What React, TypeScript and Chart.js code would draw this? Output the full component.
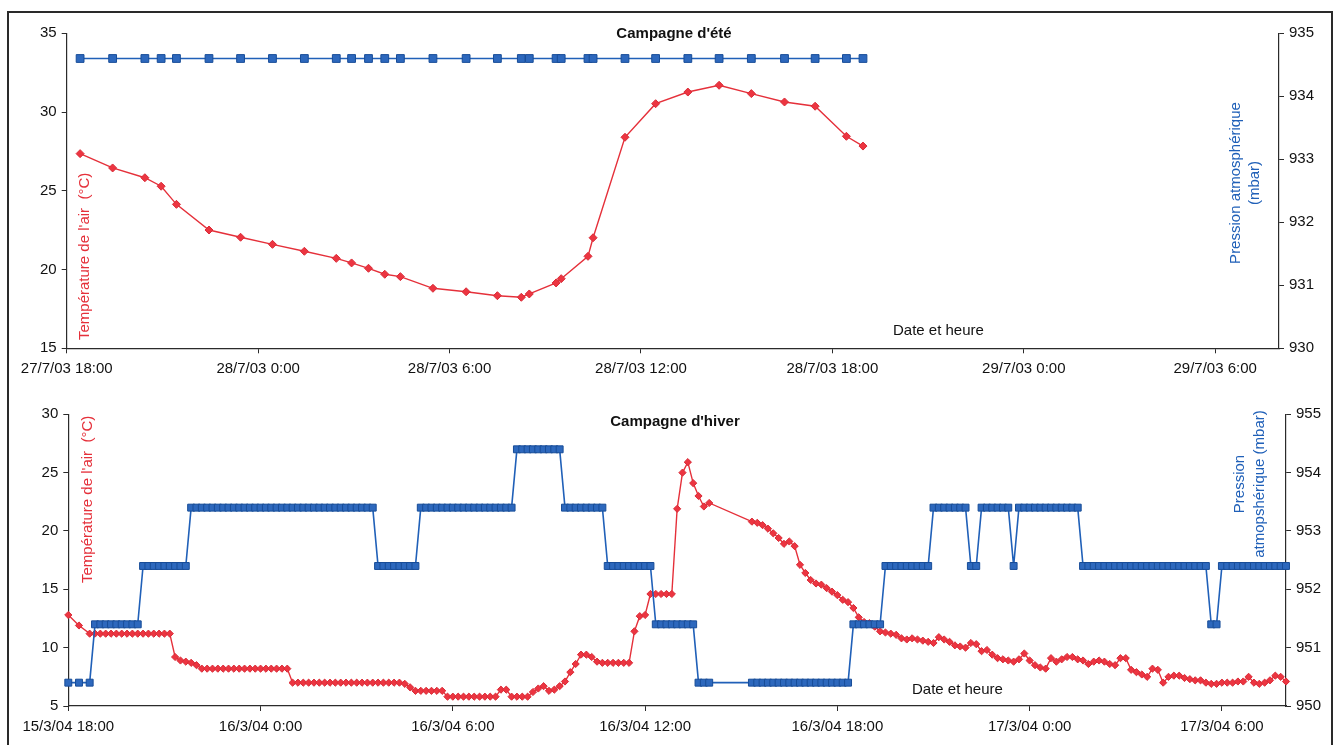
import React, { useEffect, useRef } from "react";
import { Chart, registerables } from "chart.js";

Chart.register(...registerables);

const FONT = "'Liberation Sans', Arial, Helvetica, sans-serif";

// ---------------- Campagne d'été (hours after 27/7/03 18:00) ----------------
const summerHours = [
  0.42, 1.44, 2.45, 2.96, 3.44, 4.46, 5.45, 6.45, 7.45, 8.45,
  8.93, 9.46, 9.97, 10.46, 11.48, 12.52, 13.5, 14.25, 14.5, 15.34,
  15.5, 16.34, 16.5, 17.5, 18.46, 19.47, 20.45, 21.46, 22.5, 23.46,
  24.44, 24.96,
];
const summerTemp = [
  27.36, 26.45, 25.83, 25.29, 24.14, 22.51, 22.05, 21.6, 21.16, 20.71,
  20.42, 20.08, 19.7, 19.55, 18.81, 18.59, 18.34, 18.24, 18.45, 19.15,
  19.42, 20.84, 22.02, 28.4, 30.53, 31.27, 31.7, 31.17, 30.64, 30.37,
  28.46, 27.84,
];
const summerPressure = [
  934.6, 934.6, 934.6, 934.6, 934.6, 934.6, 934.6, 934.6, 934.6, 934.6,
  934.6, 934.6, 934.6, 934.6, 934.6, 934.6, 934.6, 934.6, 934.6, 934.6,
  934.6, 934.6, 934.6, 934.6, 934.6, 934.6, 934.6, 934.6, 934.6, 934.6,
  934.6, 934.6,
];
const summerTickHours = [0, 6, 12, 18, 24, 30, 36];
const summerTickLabels = [
  "27/7/03 18:00", "28/7/03 0:00", "28/7/03 6:00", "28/7/03 12:00",
  "28/7/03 18:00", "29/7/03 0:00", "29/7/03 6:00",
];

// ---------------- Campagne d'hiver (minutes after 15/3/04 18:00) ----------------
const winterMinutes = [
  0, 20, 40,
  50, 60, 70, 80, 90, 100, 110, 120, 130, 140, 150, 160, 170, 180, 190, 200,
  210, 220, 230, 240, 250, 260, 270, 280, 290, 300, 310, 320, 330, 340, 350, 360, 370, 380, 390, 400,
  410, 420, 430, 440, 450, 460, 470, 480, 490, 500, 510, 520, 530, 540, 550, 560, 570, 580, 590, 600,
  610, 620, 630, 640, 650, 660, 670, 680, 690, 700, 710, 720, 730, 740, 750, 760, 770, 780, 790, 800,
  810, 820, 830, 840, 850, 860, 870, 880, 890, 900, 910, 920, 930, 940, 950, 960, 970, 980, 990, 1000,
  1010, 1020, 1030, 1040, 1050, 1060, 1070, 1080, 1090, 1100, 1110, 1120, 1130, 1140, 1150, 1160, 1170, 1180, 1190, 1200,
  1280, 1290, 1300, 1310, 1320, 1330, 1340, 1350, 1360, 1370, 1380, 1390, 1400, 1410, 1420, 1430, 1440, 1450, 1460, 1470,
  1480, 1490, 1500, 1510, 1520, 1530, 1540, 1550, 1560, 1570, 1580, 1590, 1600, 1610, 1620, 1630, 1640, 1650, 1660, 1670,
  1680, 1690, 1700, 1710, 1720, 1730, 1740, 1750, 1760, 1770, 1780, 1790, 1800, 1810, 1820, 1830, 1840, 1850, 1860, 1870,
  1880, 1890, 1900, 1910, 1920, 1930, 1940, 1950, 1960, 1970, 1980, 1990, 2000, 2010, 2020, 2030, 2040, 2050, 2060, 2070,
  2080, 2090, 2100, 2110, 2120, 2130, 2140, 2150, 2160, 2170, 2180, 2190, 2200, 2210, 2220, 2230, 2240, 2250, 2260, 2270,
  2280,
];
const winterTemp = [
  12.8, 11.9, 11.2,
  11.2, 11.2, 11.2, 11.2, 11.2, 11.2, 11.2, 11.2, 11.2, 11.2, 11.2, 11.2, 11.2, 11.2, 11.2, 9.2,
  8.9, 8.8, 8.7, 8.5, 8.2, 8.2, 8.2, 8.2, 8.2, 8.2, 8.2, 8.2, 8.2, 8.2, 8.2, 8.2, 8.2, 8.2, 8.2, 8.2,
  8.2, 7.0, 7.0, 7.0, 7.0, 7.0, 7.0, 7.0, 7.0, 7.0, 7.0, 7.0, 7.0, 7.0, 7.0, 7.0, 7.0, 7.0, 7.0, 7.0,
  7.0, 7.0, 6.9, 6.6, 6.3, 6.3, 6.3, 6.3, 6.3, 6.3, 5.8, 5.8, 5.8, 5.8, 5.8, 5.8, 5.8, 5.8, 5.8, 5.8,
  6.4, 6.4, 5.8, 5.8, 5.8, 5.8, 6.2, 6.5, 6.7, 6.3, 6.4, 6.7, 7.1, 7.9, 8.6, 9.4, 9.4, 9.2, 8.8, 8.7,
  8.7, 8.7, 8.7, 8.7, 8.7, 11.4, 12.7, 12.8, 14.6, 14.6, 14.6, 14.6, 14.6, 21.9, 25.0, 25.9, 24.1, 23.0, 22.1, 22.4,
  20.8, 20.7, 20.5, 20.2, 19.8, 19.4, 18.9, 19.1, 18.7, 17.1, 16.4, 15.8, 15.5, 15.4, 15.1, 14.8, 14.5, 14.1, 13.9, 13.4,
  12.6, 12.2, 12.1, 11.8, 11.4, 11.3, 11.2, 11.1, 10.8, 10.7, 10.8, 10.7, 10.6, 10.5, 10.4, 10.9, 10.7, 10.5, 10.2, 10.1,
  10.0, 10.4, 10.3, 9.7, 9.8, 9.4, 9.1, 9.0, 8.9, 8.8, 9.0, 9.5, 8.9, 8.5, 8.3, 8.2, 9.1, 8.8, 9.0, 9.2,
  9.2, 9.0, 8.9, 8.6, 8.8, 8.9, 8.8, 8.6, 8.5, 9.1, 9.1, 8.1, 7.9, 7.7, 7.5, 8.2, 8.1, 7.0, 7.5, 7.6,
  7.6, 7.4, 7.3, 7.2, 7.2, 7.0, 6.9, 6.9, 7.0, 7.0, 7.0, 7.1, 7.1, 7.5, 7.0, 6.9, 7.0, 7.2, 7.6, 7.5,
  7.1,
];
const winterPressure = [
  950.4, 950.4, 950.4,
  951.4, 951.4, 951.4, 951.4, 951.4, 951.4, 951.4, 951.4, 951.4, 952.4, 952.4, 952.4, 952.4, 952.4, 952.4, 952.4,
  952.4, 952.4, 953.4, 953.4, 953.4, 953.4, 953.4, 953.4, 953.4, 953.4, 953.4, 953.4, 953.4, 953.4, 953.4, 953.4, 953.4, 953.4, 953.4, 953.4,
  953.4, 953.4, 953.4, 953.4, 953.4, 953.4, 953.4, 953.4, 953.4, 953.4, 953.4, 953.4, 953.4, 953.4, 953.4, 953.4, 953.4, 952.4, 952.4, 952.4,
  952.4, 952.4, 952.4, 952.4, 952.4, 953.4, 953.4, 953.4, 953.4, 953.4, 953.4, 953.4, 953.4, 953.4, 953.4, 953.4, 953.4, 953.4, 953.4, 953.4,
  953.4, 953.4, 953.4, 954.4, 954.4, 954.4, 954.4, 954.4, 954.4, 954.4, 954.4, 954.4, 953.4, 953.4, 953.4, 953.4, 953.4, 953.4, 953.4, 953.4,
  952.4, 952.4, 952.4, 952.4, 952.4, 952.4, 952.4, 952.4, 952.4, 951.4, 951.4, 951.4, 951.4, 951.4, 951.4, 951.4, 951.4, 950.4, 950.4, 950.4,
  950.4, 950.4, 950.4, 950.4, 950.4, 950.4, 950.4, 950.4, 950.4, 950.4, 950.4, 950.4, 950.4, 950.4, 950.4, 950.4, 950.4, 950.4, 950.4, 951.4,
  951.4, 951.4, 951.4, 951.4, 951.4, 952.4, 952.4, 952.4, 952.4, 952.4, 952.4, 952.4, 952.4, 952.4, 953.4, 953.4, 953.4, 953.4, 953.4, 953.4,
  953.4, 952.4, 952.4, 953.4, 953.4, 953.4, 953.4, 953.4, 953.4, 952.4, 953.4, 953.4, 953.4, 953.4, 953.4, 953.4, 953.4, 953.4, 953.4, 953.4,
  953.4, 953.4, 952.4, 952.4, 952.4, 952.4, 952.4, 952.4, 952.4, 952.4, 952.4, 952.4, 952.4, 952.4, 952.4, 952.4, 952.4, 952.4, 952.4, 952.4,
  952.4, 952.4, 952.4, 952.4, 952.4, 952.4, 951.4, 951.4, 952.4, 952.4, 952.4, 952.4, 952.4, 952.4, 952.4, 952.4, 952.4, 952.4, 952.4, 952.4,
  952.4,
];
const winterTickHours = [0, 6, 12, 18, 24, 30, 36];
const winterTickLabels = [
  "15/3/04 18:00", "16/3/04 0:00", "16/3/04 6:00", "16/3/04 12:00",
  "16/3/04 18:00", "17/3/04 0:00", "17/3/04 6:00",
];

const RED = "#e5303a";
const BLUE = "#2060b8";
const AXIS = "#2b2b2b";

type TextItem = {
  text: string; x: number; y: number; size: number; color: string;
  bold?: boolean; rotate?: boolean; align: CanvasTextAlign;
};

function textPlugin(texts: TextItem[]) {
  return {
    id: "panelTexts",
    afterDraw(chart: any) {
      const ctx = chart.ctx as CanvasRenderingContext2D;
      texts.forEach((t) => {
        ctx.save();
        ctx.font = `${t.bold ? "bold " : ""}${t.size}px ${FONT}`;
        ctx.fillStyle = t.color;
        ctx.textAlign = t.align;
        ctx.textBaseline = "middle";
        ctx.translate(t.x, t.y);
        if (t.rotate) ctx.rotate(-Math.PI / 2);
        ctx.fillText(t.text, 0, 0);
        ctx.restore();
      });
    },
  };
}

type PanelSpec = {
  height: number;
  xs: number[];
  temp: number[];
  pressure: number[];
  tickHours: number[];
  tickLabels: string[];
  tMin: number; tMax: number; tStep: number;
  pMin: number; pMax: number;
  padTop: number; xHeight: number; leftW: number; rightW: number;
  sqR: number; diaR: number;
  texts: TextItem[];
};

function buildConfig(p: PanelSpec): any {
  const tickFont = { family: FONT, size: 15 };
  return {
    type: "line",
    data: {
      datasets: [
        {
          label: "Pression atmosphérique",
          data: p.xs.map((x, i) => ({ x, y: p.pressure[i] })),
          yAxisID: "y1",
          borderColor: BLUE,
          borderWidth: 1.6,
          pointStyle: "rect",
          pointRadius: p.sqR,
          pointBackgroundColor: "#2d68bd",
          pointBorderColor: "#184d98",
          pointBorderWidth: 1,
          clip: false,
        },
        {
          label: "Température de l'air",
          data: p.xs.map((x, i) => ({ x, y: p.temp[i] })),
          yAxisID: "y",
          borderColor: RED,
          borderWidth: 1.4,
          pointStyle: "rectRot",
          pointRadius: p.diaR,
          pointBackgroundColor: "#ec3541",
          pointBorderColor: "#d92a36",
          pointBorderWidth: 1,
          clip: false,
        },
      ],
    },
    options: {
      responsive: false,
      animation: false,
      devicePixelRatio: 1,
      events: [],
      layout: { padding: { top: p.padTop, left: 0, right: 0, bottom: 0 } },
      plugins: {
        legend: { display: false },
        tooltip: { enabled: false },
        title: { display: false },
      },
      scales: {
        x: {
          type: "linear",
          min: 0,
          max: 38,
          afterBuildTicks: (s: any) => {
            s.ticks = p.tickHours.map((v) => ({ value: v }));
          },
          afterFit: (s: any) => {
            s.height = p.xHeight;
          },
          ticks: {
            callback: (_v: any, i: number) => p.tickLabels[i],
            font: tickFont,
            color: "#111",
            padding: 7,
            maxRotation: 0,
            autoSkip: false,
          },
          grid: { drawOnChartArea: false, drawTicks: true, tickLength: 5, color: AXIS },
          border: { display: true, color: AXIS, width: 1.2 },
        },
        y: {
          type: "linear",
          position: "left",
          min: p.tMin,
          max: p.tMax,
          afterFit: (s: any) => {
            s.width = p.leftW;
          },
          ticks: { stepSize: p.tStep, font: tickFont, color: "#111", padding: 5 },
          grid: { drawOnChartArea: false, drawTicks: true, tickLength: 5, color: AXIS },
          border: { display: true, color: AXIS, width: 1.2 },
        },
        y1: {
          type: "linear",
          position: "right",
          min: p.pMin,
          max: p.pMax,
          afterFit: (s: any) => {
            s.width = p.rightW;
          },
          ticks: { stepSize: 1, font: tickFont, color: "#111", padding: 5 },
          grid: { drawOnChartArea: false, drawTicks: true, tickLength: 5, color: AXIS },
          border: { display: true, color: AXIS, width: 1.2 },
        },
      },
    },
    plugins: [textPlugin(p.texts)],
  };
}

const summerSpec: PanelSpec = {
  height: 385,
  xs: summerHours,
  temp: summerTemp,
  pressure: summerPressure,
  tickHours: summerTickHours,
  tickLabels: summerTickLabels,
  tMin: 15, tMax: 35, tStep: 5,
  pMin: 930, pMax: 935,
  padTop: 33.3, xHeight: 385 - 348.3, leftW: 66.7, rightW: 1341 - 1279,
  sqR: 5.5, diaR: 4,
  texts: [
    { text: "Campagne d'été", x: 674, y: 34, size: 15, color: "#111", bold: true, align: "center" },
    { text: "Température de l'air  (°C)", x: 85, y: 340, size: 15, color: RED, rotate: true, align: "left" },
    { text: "Pression atmosphérique", x: 1236, y: 183, size: 15, color: BLUE, rotate: true, align: "center" },
    { text: "(mbar)", x: 1255, y: 183, size: 15, color: BLUE, rotate: true, align: "center" },
    { text: "Date et heure", x: 893, y: 331, size: 15, color: "#111", align: "left" },
  ],
};

const winterSpec: PanelSpec = {
  height: 360,
  xs: winterMinutes.map((m) => m / 60),
  temp: winterTemp,
  pressure: winterPressure,
  tickHours: winterTickHours,
  tickLabels: winterTickLabels,
  tMin: 5, tMax: 30, tStep: 5,
  pMin: 950, pMax: 955,
  padTop: 414.3 - 385, xHeight: 360 - (706 - 385), leftW: 68.3, rightW: 1341 - 1286,
  sqR: 4.9, diaR: 3.6,
  texts: [
    { text: "Campagne d'hiver", x: 675, y: 37, size: 15, color: "#111", bold: true, align: "center" },
    { text: "Température de l'air  (°C)", x: 88, y: 198, size: 15, color: RED, rotate: true, align: "left" },
    { text: "Pression", x: 1240, y: 99, size: 15, color: BLUE, rotate: true, align: "center" },
    { text: "atmopshérique (mbar)", x: 1260, y: 99, size: 15, color: BLUE, rotate: true, align: "center" },
    { text: "Date et heure", x: 912, y: 305, size: 15, color: "#111", align: "left" },
  ],
};

function Panel({ spec, top }: { spec: PanelSpec; top: number }) {
  const ref = useRef<HTMLCanvasElement>(null);
  useEffect(() => {
    if (!ref.current) return;
    const chart = new Chart(ref.current, buildConfig(spec));
    return () => chart.destroy();
  }, [spec]);
  return (
    <canvas
      ref={ref}
      width={1341}
      height={spec.height}
      style={{ position: "absolute", left: 0, top, width: 1341, height: spec.height, display: "block" }}
    />
  );
}

export default function App() {
  return (
    <div
      style={{
        position: "fixed",
        left: 0,
        top: 0,
        width: 1341,
        height: 745,
        overflow: "hidden",
        background: "#ffffff",
      }}
    >
      <div
        style={{
          position: "absolute",
          left: 7,
          top: 11,
          width: 1326,
          height: 800,
          border: "2px solid #2a2a2a",
          boxSizing: "border-box",
        }}
      />
      <Panel spec={summerSpec} top={0} />
      <Panel spec={winterSpec} top={385} />
    </div>
  );
}
